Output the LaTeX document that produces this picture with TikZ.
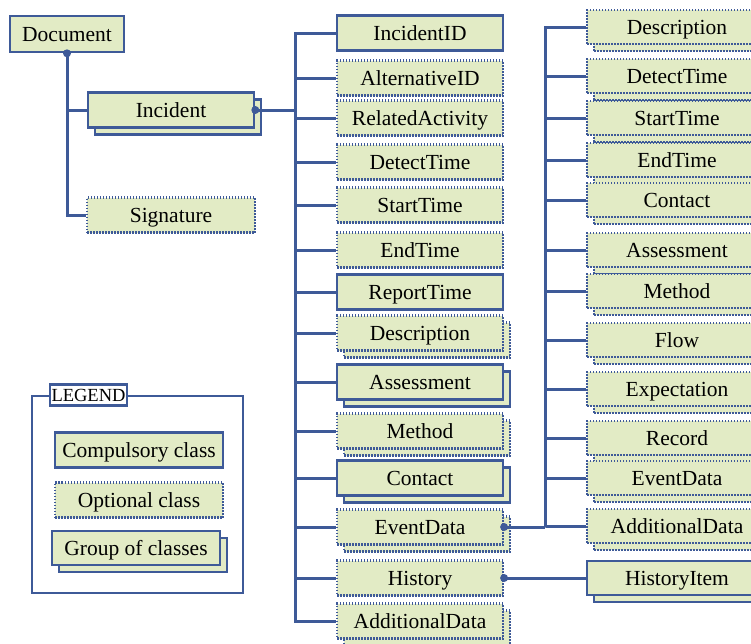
\documentclass[tikz,border=0pt]{standalone}
\usepackage{fontspec}
\setmainfont{Liberation Serif}
\usetikzlibrary{shadows}
\definecolor{boxfill}{RGB}{226,235,197}
\definecolor{boxline}{RGB}{62,90,152}
\begin{document}
\begin{tikzpicture}[x=1pt,y=-1pt,
  cls/.style={draw=boxline, fill=boxfill, line width=2.6pt, solid, minimum height=35pt, minimum width=166pt, inner sep=0pt, text height=15pt, text depth=0pt, font=\fontsize{21.5}{24}\selectfont},
  opt/.style={cls, line width=2.2pt, dash pattern=on 1.5pt off 1.5pt},
  rcls/.style={opt, minimum width=180pt, minimum height=34pt},
  grp/.style={general shadow={shadow xshift=7pt, shadow yshift=-7pt, draw=boxline, fill=boxfill, line width=2.6pt, solid}},
  ogrp/.style={general shadow={shadow xshift=7pt, shadow yshift=-7pt, draw=boxline, fill=boxfill, line width=2.2pt, dash pattern=on 1.5pt off 1.5pt}},
  conn/.style={draw=boxline, line width=3pt},
  dotc/.style={circle, fill=boxline, inner sep=0pt, minimum size=8pt}
]
\useasboundingbox (0,0) rectangle (751,643);
\clip (0,0) rectangle (751,643);

% left part
\node[cls, minimum width=114pt, minimum height=36pt] (doc) at (67,34) {Document};
\node[cls, grp] (inc) at (171,110) {Incident};
\node[opt, minimum width=168pt] (sig) at (171,215) {Signature};

% middle column
\node[cls] (iid) at (420,33) {IncidentID};
\node[opt] (aid) at (420,78) {AlternativeID};
\node[opt] (rel) at (420,118) {RelatedActivity};
\node[opt] (det) at (420,162) {DetectTime};
\node[opt] (sta) at (420,205) {StartTime};
\node[opt] (endt) at (420,250) {EndTime};
\node[cls] (rep) at (420,292) {ReportTime};
\node[opt, ogrp] (des) at (420,333) {Description};
\node[cls, grp] (ass) at (420,382) {Assessment};
\node[opt, ogrp] (met) at (420,431) {Method};
\node[cls, grp] (con) at (420,478) {Contact};
\node[opt, ogrp] (evd) at (420,527) {EventData};
\node[opt] (his) at (420,578) {History};
\node[opt, ogrp] (add) at (420,621) {AdditionalData};

% right column
\node[rcls, ogrp] (rdes) at (677,27) {Description};
\node[rcls, ogrp] (rdet) at (677,76) {DetectTime};
\node[rcls, ogrp] (rsta) at (677,118) {StartTime};
\node[rcls, ogrp] (rend) at (677,160) {EndTime};
\node[rcls, ogrp] (rcon) at (677,200) {Contact};
\node[rcls, ogrp] (rass) at (677,250) {Assessment};
\node[rcls, ogrp] (rmet) at (677,291) {Method};
\node[rcls, ogrp] (rflo) at (677,340) {Flow};
\node[rcls, ogrp] (rexp) at (677,389) {Expectation};
\node[rcls, ogrp] (rrec) at (677,438) {Record};
\node[rcls, ogrp] (revd) at (677,478) {EventData};
\node[rcls, ogrp] (radd) at (677,526) {AdditionalData};
\node[cls, grp, minimum width=180pt, minimum height=34pt] (hitem) at (677,578) {HistoryItem};

% connectors
\draw[conn] (doc.south) |- (inc.west);
\draw[conn] (doc.south) |- (sig.west);
\coordinate (t1) at (295,110);
\draw[conn] (inc.east) -- (t1);
\foreach \n in {iid,aid,rel,det,sta,endt,rep,des,ass,met,con,evd,his,add}
  \draw[conn] (t1) |- (\n.west);
\coordinate (t2) at (545,527);
\draw[conn] (evd.east) -- (t2);
\foreach \n in {rdes,rdet,rsta,rend,rcon,rass,rmet,rflo,rexp,rrec,revd,radd}
  \draw[conn] (t2) |- (\n.west);
\draw[conn] (his.east) -- (hitem.west);
\node[dotc] (d1) at (doc.south) {};
\node[dotc] (d2) at (inc.east) {};
\node[dotc] (d3) at (evd.east) {};
\node[dotc] (d4) at (his.east) {};

% legend
\node[draw=boxline, line width=2.6pt, minimum width=211pt, minimum height=197pt, inner sep=0pt] (legend) at (137.5,494.5) {};
\node[draw=boxline, fill=white, line width=2.6pt, minimum width=77pt, minimum height=21pt, inner sep=0pt, font=\fontsize{18.5}{19}\selectfont] (legtitle) at (88.5,395) {LEGEND};
\node[cls, minimum width=168pt] (lc) at (139,450) {Compulsory class};
\node[opt, minimum width=168pt] (lo) at (139,500) {Optional class};
\node[cls, grp, minimum width=168pt, minimum height=34pt] (lg) at (136,548) {Group of classes};
\end{tikzpicture}
\end{document}
